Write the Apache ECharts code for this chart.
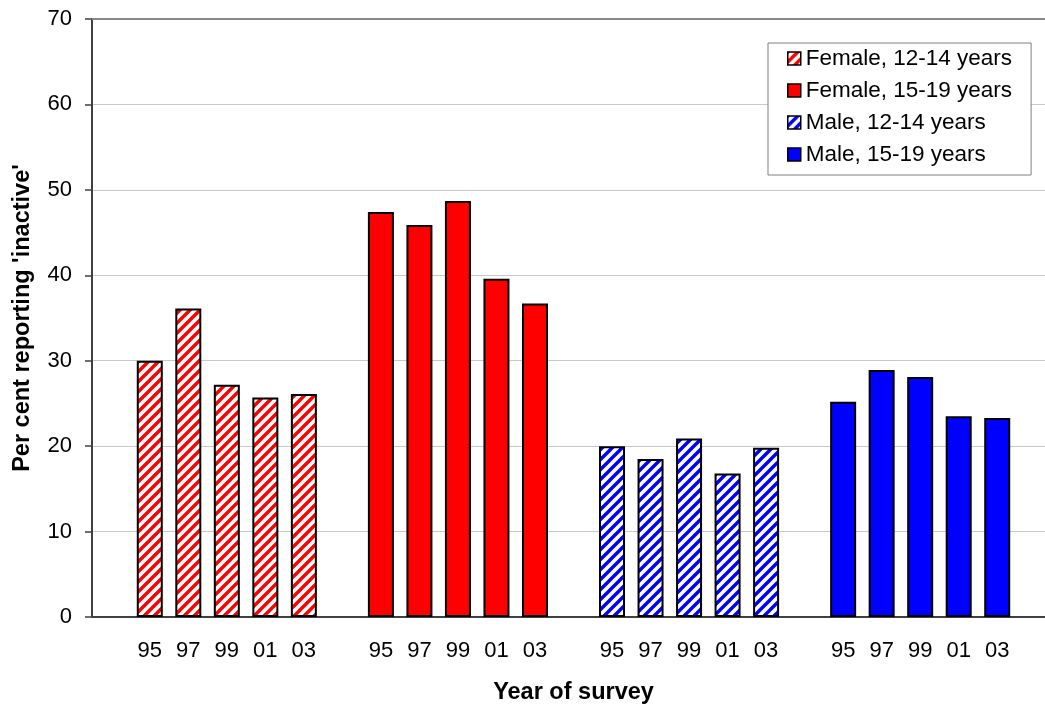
<!DOCTYPE html>
<html>
<head>
<meta charset="utf-8">
<script src="https://cdn.jsdelivr.net/npm/echarts@6/dist/echarts.min.js"></script>
<style>
  html, body { margin: 0; padding: 0; background: #fff; }
  #chart { width: 1045px; height: 707px; }
</style>
</head>
<body>
<div id="chart"></div>
<script>
// Survey years shown under each group of bars
const years = ['95', '97', '99', '01', '03'];

// Per cent reporting 'inactive', by group and survey year
const female1214 = [30.0, 36.1, 27.2, 25.7, 26.1];
const female1519 = [47.4, 45.9, 48.7, 39.6, 36.7];
const male1214   = [20.0, 18.5, 20.9, 16.8, 19.8];
const male1519   = [25.2, 28.9, 28.1, 23.5, 23.3];

const seriesNames = ['Female, 12-14 years', 'Female, 15-19 years', 'Male, 12-14 years', 'Male, 15-19 years'];
const yTicks = [0, 10, 20, 30, 40, 50, 60, 70];

const FONT = '"Liberation Sans", Arial, sans-serif';

// Category axis: one empty slot before, between and after the groups
const groups = [female1214, female1519, male1214, male1519];
const categories = [''];
groups.forEach(function (g) {
  years.forEach(function (y) { categories.push(y); });
  categories.push('');
});

function seriesData(groupIndex) {
  const out = categories.map(function () { return null; });
  const start = 1 + groupIndex * (years.length + 1);
  groups[groupIndex].forEach(function (v, i) { out[start + i] = v; });
  return out;
}

// Diagonal "/" hatch fill
function hatch(color) {
  const size = 10;
  const c = document.createElement('canvas');
  c.width = size; c.height = size;
  const ctx = c.getContext('2d');
  ctx.fillStyle = '#ffffff';
  ctx.fillRect(0, 0, size, size);
  ctx.strokeStyle = color;
  ctx.lineWidth = 3.4;
  ctx.beginPath();
  for (let k = -1; k <= 1; k++) {
    ctx.moveTo(k * size - size, 2 * size);
    ctx.lineTo(k * size + 2 * size, -size);
  }
  ctx.stroke();
  return { image: c, repeat: 'repeat' };
}

const fills = [hatch('#ff0000'), '#ff0000', hatch('#0000ff'), '#0000ff'];

const chart = echarts.init(document.getElementById('chart'), null, { renderer: 'canvas' });

const series = seriesNames.map(function (name, i) {
  return {
    name: name,
    type: 'bar',
    data: seriesData(i),
    barWidth: 26,
    barGap: '-100%',
    itemStyle: { color: fills[i], borderColor: '#000', borderWidth: 2 },
    emphasis: { disabled: true },
    animation: false
  };
});

chart.setOption({
  animation: false,
  backgroundColor: '#ffffff',
  grid: { left: 92, right: -10, top: 19, bottom: 90, containLabel: false, outerBoundsMode: 'none' },
  legend: {
    orient: 'vertical',
    left: 768,
    top: 43,
    padding: [4, 19, 9, 19],
    itemGap: 9,
    itemWidth: 13,
    itemHeight: 13,
    icon: 'rect',
    backgroundColor: '#ffffff',
    borderColor: '#808080',
    borderWidth: 1,
    borderRadius: 0,
    data: seriesNames,
    itemStyle: { borderColor: '#000', borderWidth: 1.5 },
    textStyle: { fontFamily: FONT, fontSize: 22.5, color: '#000' },
    selectedMode: false
  },
  xAxis: [{
    type: 'category',
    data: categories,
    boundaryGap: true,
    axisLine: { show: true, lineStyle: { color: '#404040', width: 2 } },
    axisTick: { show: false },
    axisLabel: { fontFamily: FONT, fontSize: 22, color: '#000', margin: 23, interval: 0 },
    name: 'Year of survey',
    nameLocation: 'middle',
    nameGap: 64,
    nameTextStyle: { fontFamily: FONT, fontSize: 23.5, fontWeight: 'bold', color: '#000' }
  }, {
    type: 'category',
    position: 'top',
    data: categories,
    axisLine: { show: true, lineStyle: { color: '#888888', width: 2 } },
    axisTick: { show: false },
    axisLabel: { show: false }
  }],
  yAxis: {
    type: 'value',
    min: yTicks[0],
    max: yTicks[yTicks.length - 1],
    interval: 10,
    axisLine: { show: true, lineStyle: { color: '#404040', width: 2 } },
    axisTick: { show: true, inside: false, length: 7, lineStyle: { color: '#404040', width: 1.5 } },
    splitLine: { show: true, lineStyle: { color: '#c8c8c8', width: 1 } },
    axisLabel: { fontFamily: FONT, fontSize: 22, color: '#000', margin: 20 },
    name: "Per cent reporting 'inactive'",
    nameLocation: 'middle',
    nameGap: 57,
    nameTextStyle: { fontFamily: FONT, fontSize: 23.5, fontWeight: 'bold', color: '#000' }
  },
  series: series
});
</script>
</body>
</html>
